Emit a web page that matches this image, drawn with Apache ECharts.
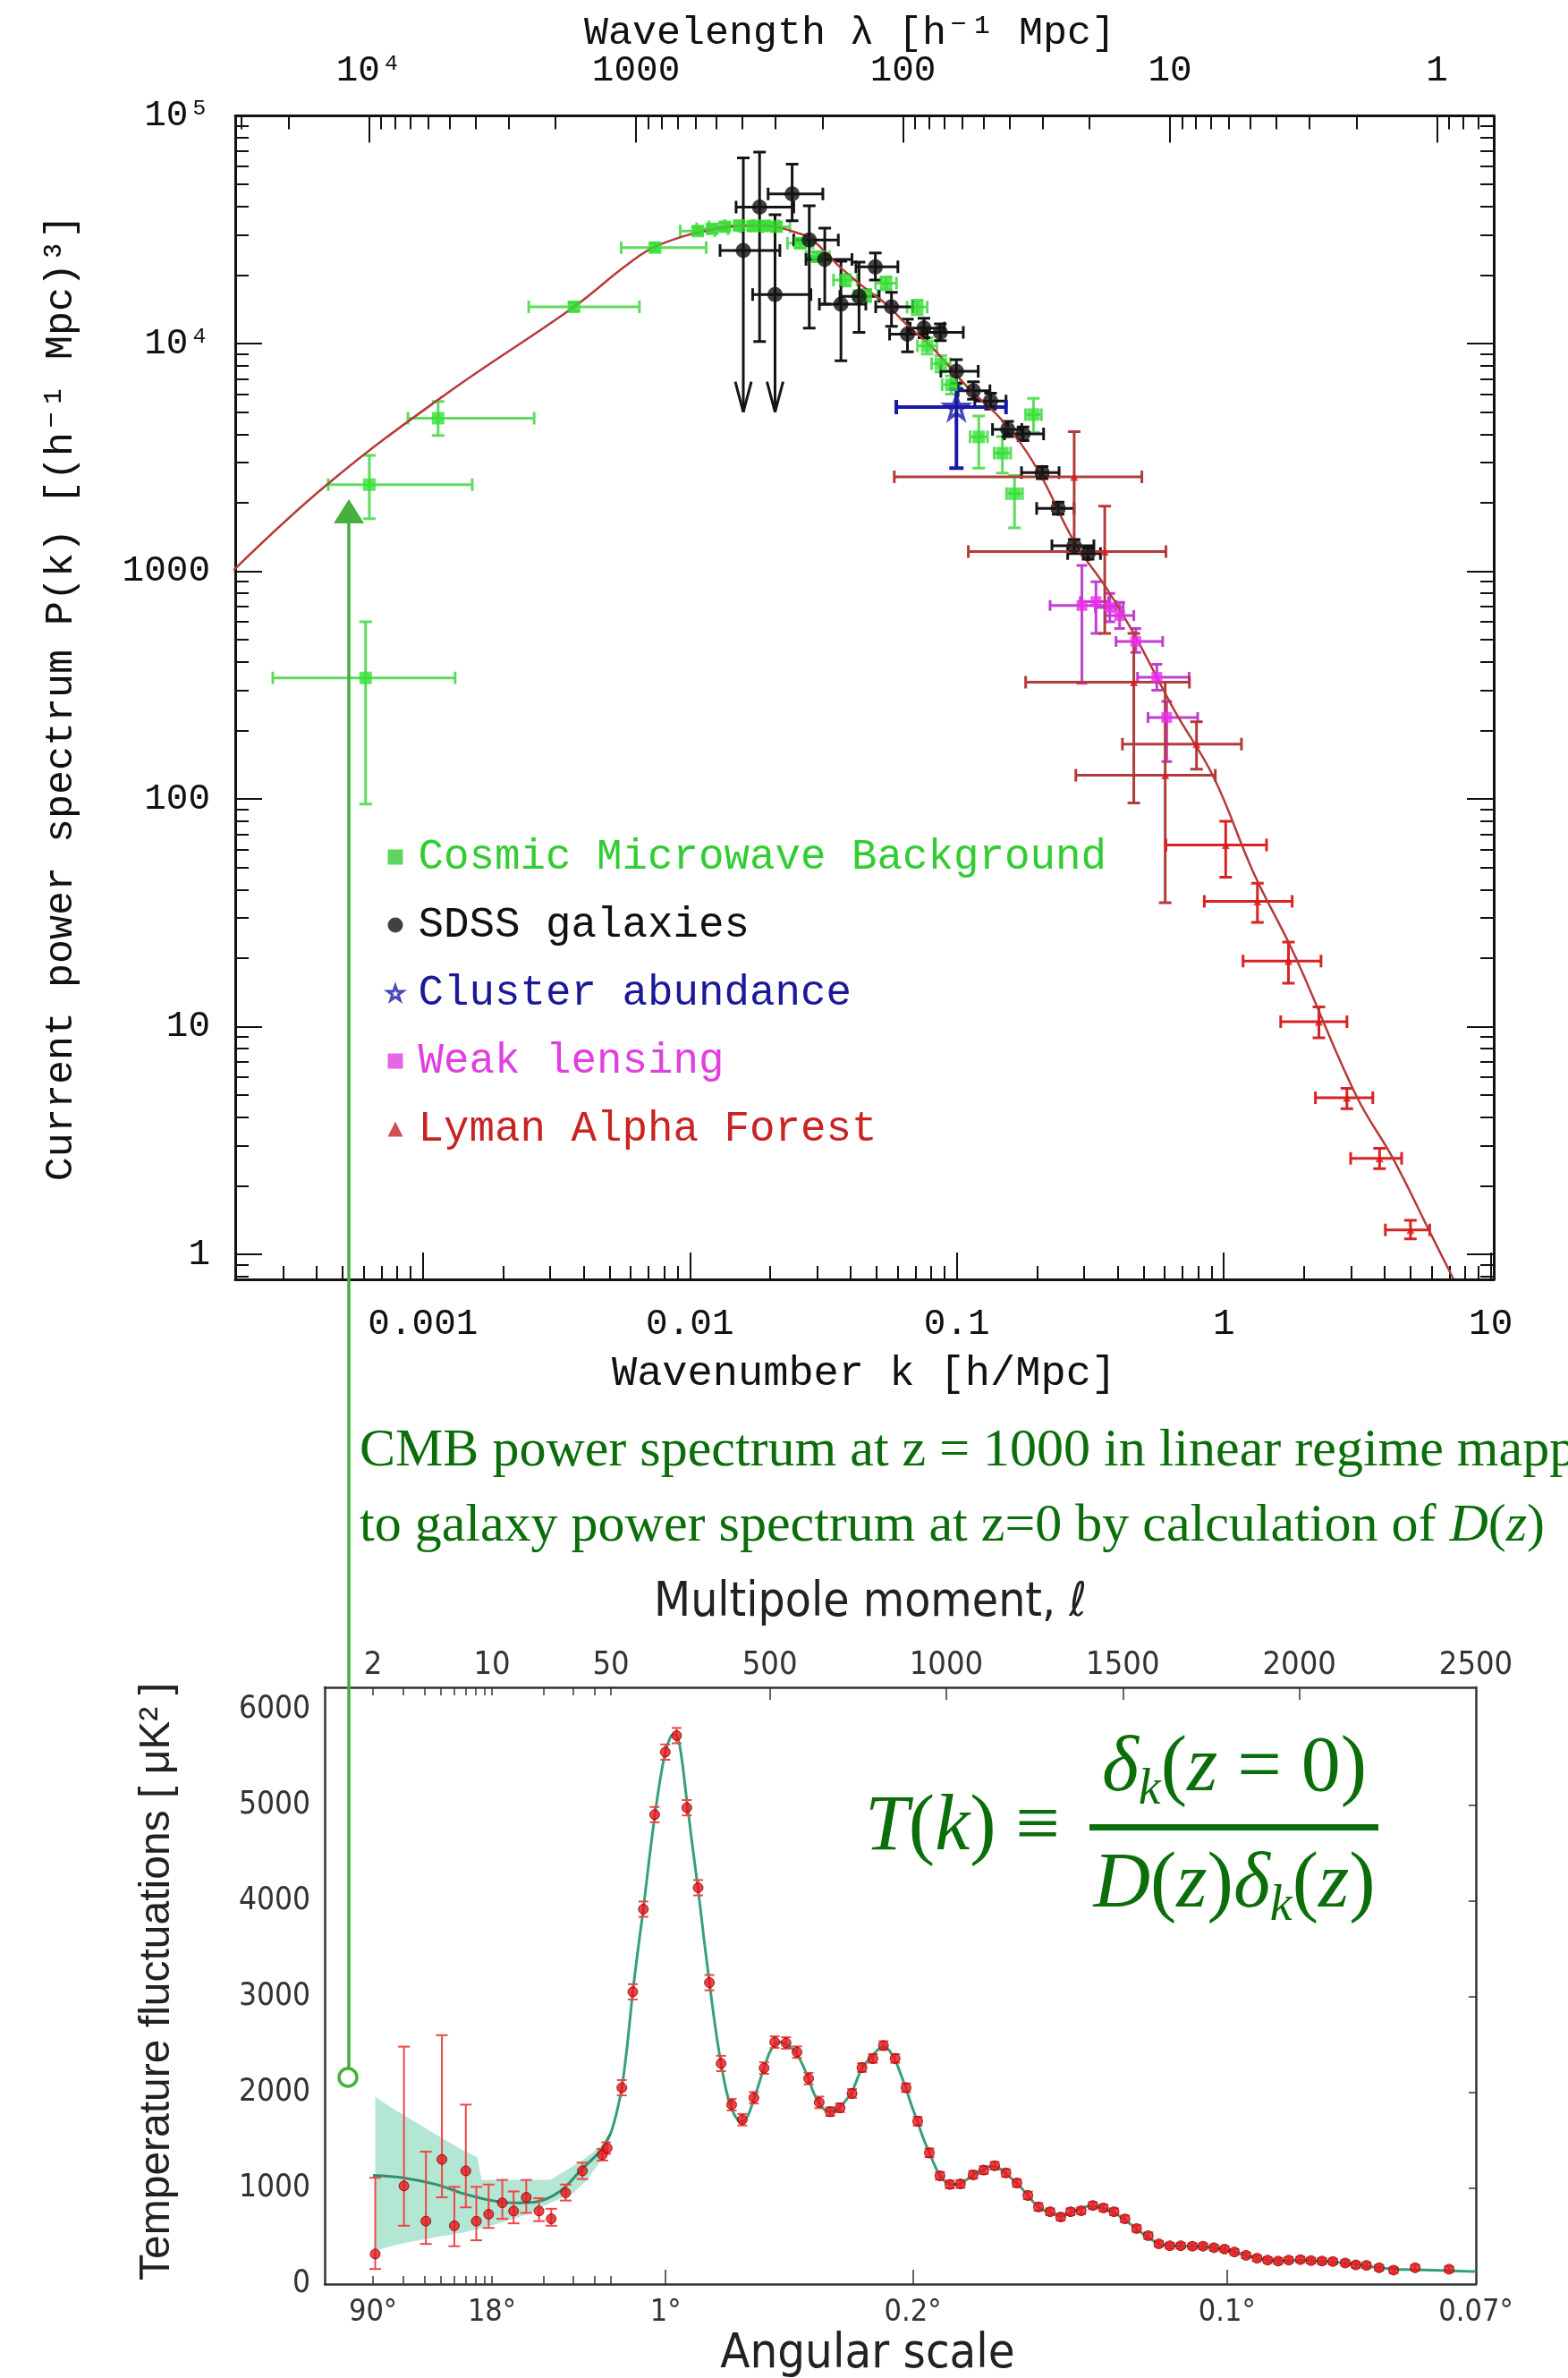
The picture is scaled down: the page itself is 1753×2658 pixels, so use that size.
<!DOCTYPE html>
<html>
<head>
<meta charset="utf-8">
<title>Matter power spectrum and CMB temperature spectrum</title>
<script src="https://cdn.jsdelivr.net/npm/echarts@6.0.0/dist/echarts.min.js"></script>
<style>
  html, body { margin: 0; padding: 0; background: #ffffff; }
  #chart { width: 1753px; height: 2658px; }
</style>
</head>
<body>
<div id="chart"></div>
<script>
// ---------------- Matter power spectrum P(k) at z = 0 ----------------
// Each point: [k, P, kLow, kHigh, PLow, PHigh, lowerLimitFlag]

// Linear-theory curve
const theoryK = [1.95e-4, 4.44e-4, 1.23e-3, 3.68e-3, 5.77e-3, 7.55e-3, 0.0126, 0.0178, 0.0211, 0.0251, 0.0284, 0.036, 0.0456, 0.0543, 0.0649, 0.0818, 0.110, 0.148, 0.199, 0.275, 0.362, 0.46, 0.65, 0.916, 1.294, 1.824, 3.133, 4.315, 5.957, 7.23];
const theoryP = [1009, 2438, 6040, 14490, 22030, 26920, 32000, 33000, 32500, 30700, 28900, 22000, 17400, 14900, 12100, 9460, 6410, 4590, 2840, 1349, 849, 533, 247, 124.5, 47.2, 21.1, 4.97, 2.62, 1.23, 0.783];

const cmbPoints = [
  [6.1e-4, 340, 2.74e-4, 1.32e-3, 95, 600],
  [6.3e-4, 2400, 4.42e-4, 1.53e-3, 1700, 3230],
  [1.14e-3, 4700, 8.79e-4, 2.61e-3, 3950, 5570],
  [3.68e-3, 14500, 2.49e-3, 6.47e-3, 13900, 15100],
  [7.4e-3, 26400, 5.53e-3, 1.15e-2, 25400, 27500],
  [0.0107, 31200, 0.0092, 0.0124, 30000, 32500],
  [0.0121, 31900, 0.0106, 0.0139, 30600, 33200],
  [0.0135, 32600, 0.0118, 0.0155, 31300, 33900],
  [0.0153, 33000, 0.0135, 0.0174, 31700, 34300],
  [0.0172, 32800, 0.0152, 0.0195, 31500, 34100],
  [0.0191, 32900, 0.0170, 0.0215, 31600, 34200],
  [0.0211, 32600, 0.0188, 0.0237, 31300, 33900],
  [0.0259, 27600, 0.0232, 0.0289, 26300, 28900],
  [0.0301, 24100, 0.0272, 0.0333, 22900, 25300],
  [0.0382, 19000, 0.0345, 0.0423, 17900, 20100],
  [0.0456, 16300, 0.0412, 0.0505, 15300, 17300],
  [0.0543, 18400, 0.0496, 0.0594, 17200, 19600],
  [0.0710, 14450, 0.0651, 0.0774, 13400, 15500],
  [0.0774, 9770, 0.0712, 0.0841, 9000, 10600],
  [0.0871, 8150, 0.0804, 0.0944, 7500, 8850],
  [0.0953, 6590, 0.0881, 0.1031, 6000, 7200],
  [0.1208, 3890, 0.1121, 0.1302, 2840, 4810],
  [0.148, 3300, 0.138, 0.159, 2700, 3900],
  [0.1644, 2190, 0.1535, 0.1761, 1550, 2630],
  [0.1936, 4875, 0.1808, 0.2073, 4070, 5750]
];

const sdssPoints = [
  [0.01585, 25600, 0.01297, 0.02173, 5000, 65300, 1],
  [0.01824, 39700, 0.01489, 0.02449, 10200, 69300, 0],
  [0.02084, 16400, 0.01718, 0.02838, 5000, 36800, 1],
  [0.02415, 45400, 0.01963, 0.03148, 34600, 61400, 0],
  [0.0280, 28500, 0.02449, 0.03597, 11700, 40300, 0],
  [0.0320, 23400, 0.02723, 0.04046, 14900, 32100, 0],
  [0.0368, 14900, 0.03055, 0.0456, 8400, 23000, 0],
  [0.0430, 16100, 0.03648, 0.05117, 11200, 22800, 0],
  [0.0495, 21700, 0.04188, 0.06012, 19000, 25000, 0],
  [0.0569, 14500, 0.04966, 0.06839, 11900, 16800, 0],
  [0.0653, 11000, 0.05598, 0.07745, 9200, 12800, 0],
  [0.0753, 11700, 0.06683, 0.08974, 10600, 12900, 0],
  [0.0867, 11200, 0.07413, 0.1057, 10300, 12200, 0],
  [0.0996, 7550, 0.0871, 0.1202, 6700, 8500, 0],
  [0.1153, 6210, 0.101, 0.133, 5700, 6800, 0],
  [0.1337, 5590, 0.1167, 0.1528, 5150, 6050, 0],
  [0.155, 4200, 0.136, 0.175, 3900, 4550, 0],
  [0.177, 4010, 0.1507, 0.2113, 3750, 4300, 0],
  [0.2086, 2710, 0.1746, 0.2415, 2550, 2880, 0],
  [0.2395, 1890, 0.199, 0.2748, 1780, 2010, 0],
  [0.275, 1295, 0.227, 0.326, 1220, 1380, 0],
  [0.310, 1195, 0.260, 0.345, 1130, 1265, 0]
];

const clusterPoints = [
  [0.0996, 5260, 0.0593, 0.1528, 2840, 6310]
];

const lensingPoints = [
  [0.294, 707, 0.2234, 0.3954, 322, 1060],
  [0.332, 736, 0.290, 0.370, 533, 900],
  [0.374, 693, 0.330, 0.420, 600, 800],
  [0.407, 639, 0.360, 0.460, 560, 730],
  [0.468, 492, 0.3945, 0.590, 440, 560],
  [0.561, 342, 0.475, 0.741, 300, 390],
  [0.611, 228, 0.520, 0.798, 146, 268]
];

// Lyman-alpha forest: broad-bin and fine-bin measurements
const lymanWide = [
  [0.275, 2600, 0.0583, 0.493, 1300, 4100],
  [0.358, 1220, 0.1104, 0.607, 533, 1930],
  [0.460, 326, 0.181, 0.743, 96, 533],
  [0.603, 127, 0.279, 0.929, 35, 326],
  [0.790, 174, 0.417, 1.164, 135, 218]
];
const lymanFine = [
  [1.016, 62.7, 0.607, 1.445, 45.3, 79.8],
  [1.336, 35.5, 0.845, 1.803, 28.7, 42.6],
  [1.746, 19.4, 1.18, 2.312, 15.5, 23.5],
  [2.27, 10.5, 1.633, 2.891, 8.93, 12.2],
  [2.89, 4.87, 2.203, 3.614, 4.36, 5.36],
  [3.83, 2.64, 2.985, 4.634, 2.38, 2.92],
  [5.00, 1.28, 4.027, 5.902, 1.17, 1.41]
];

// Axis ticks of the P(k) panel
const kTicks = [0.001, 0.01, 0.1, 1, 10];
const lambdaTicks = [10000, 1000, 100, 10, 1];
const pTicks = [1, 10, 100, 1000, 10000, 100000];

// ---------------- CMB temperature spectrum ----------------
const lowEll  = [2.06, 3.04, 4.09, 5.08, 6.01, 7.02, 8.09, 9.56, 11.5, 13.4, 15.9, 18.9, 22.3, 27.1, 34.0, 44.5, 47.5];
const lowD    = [314, 1024, 657, 1301, 609, 1182, 657, 729, 848, 762, 905, 762, 681, 953, 1182, 1350, 1420];
const lowDmin = [157, 609, 419, 905, 395, 801, 457, 586, 681, 634, 743, 657, 609, 872, 1096, 1290, 1360];
const lowDmax = [1110, 2479, 1382, 2598, 1015, 1873, 1015, 1039, 1087, 967, 1087, 896, 786, 1039, 1268, 1410, 1480];

const highEll = [81, 112, 142, 174, 204, 236, 265, 297, 329, 362, 392, 422, 455, 484, 514, 546, 577, 610, 640, 671, 699, 733, 761, 792, 822, 855, 886, 919, 952, 982, 1010, 1040, 1076, 1106, 1137, 1169, 1200, 1231, 1261, 1294, 1324, 1352, 1382, 1415, 1445, 1475, 1506, 1539, 1572, 1602, 1633, 1664, 1697, 1727, 1758, 1788, 1816, 1849, 1880, 1910, 1940, 1970, 2003, 2033, 2064, 2095, 2130, 2160, 2190, 2226, 2267, 2328, 2424];
const highD   = [2050, 3051, 3914, 4901, 5554, 5726, 4973, 4138, 3147, 2303, 1873, 1716, 1945, 2255, 2526, 2517, 2421, 2145, 1897, 1800, 1840, 1990, 2260, 2355, 2490, 2355, 2050, 1700, 1370, 1130, 1040, 1045, 1140, 1190, 1235, 1160, 1055, 925, 805, 755, 700, 755, 765, 820, 795, 755, 680, 580, 505, 420, 400, 400, 395, 395, 380, 365, 335, 300, 270, 250, 240, 250, 255, 245, 240, 235, 220, 200, 195, 170, 145, 170, 155];
const highErr = [80, 80, 80, 80, 80, 80, 80, 80, 80, 80, 60, 60, 60, 60, 60, 60, 60, 60, 60, 45, 45, 45, 45, 45, 45, 45, 45, 45, 45, 40, 40, 40, 40, 40, 40, 40, 40, 40, 40, 35, 35, 35, 35, 35, 35, 35, 35, 35, 35, 30, 30, 30, 30, 30, 30, 30, 30, 30, 30, 30, 30, 30, 30, 30, 30, 30, 30, 30, 30, 30, 30, 30, 30];

// Best-fit model spectrum
const modelEll = [2, 3, 4.7, 6.8, 10, 13.4, 18, 25, 34, 43.6, 50, 60, 70, 81, 95, 112, 127, 142, 158, 174, 190, 205, 220, 232, 245, 265, 280, 297, 313, 329, 345, 362, 378, 392, 408, 422, 438, 455, 470, 484, 500, 514, 530, 546, 561, 577, 593, 610, 625, 640, 655, 671, 685, 699, 716, 733, 761, 792, 822, 838, 855, 870, 886, 902, 919, 935, 952, 967, 982, 996, 1010, 1025, 1040, 1058, 1076, 1091, 1106, 1122, 1137, 1153, 1169, 1185, 1200, 1216, 1231, 1246, 1261, 1278, 1294, 1310, 1324, 1338, 1352, 1367, 1382, 1398, 1415, 1430, 1445, 1460, 1475, 1490, 1506, 1522, 1539, 1555, 1572, 1587, 1602, 1618, 1633, 1664, 1697, 1727, 1758, 1788, 1816, 1849, 1880, 1910, 1940, 1970, 2003, 2033, 2064, 2095, 2130, 2160, 2190, 2226, 2267, 2328, 2424, 2500];
const modelD = [1135, 1110, 1040, 945, 872, 848, 858, 967, 1206, 1396, 1580, 1700, 1850, 2050, 2450, 3050, 3500, 3920, 4420, 4880, 5280, 5560, 5720, 5740, 5620, 5050, 4600, 4120, 3620, 3150, 2700, 2300, 2000, 1830, 1720, 1690, 1760, 1930, 2100, 2260, 2420, 2500, 2530, 2500, 2470, 2400, 2290, 2140, 1990, 1890, 1820, 1800, 1810, 1850, 1920, 2010, 2250, 2390, 2480, 2440, 2340, 2200, 2040, 1860, 1690, 1520, 1370, 1240, 1130, 1070, 1045, 1040, 1050, 1090, 1140, 1170, 1195, 1225, 1230, 1200, 1150, 1100, 1050, 990, 920, 860, 805, 770, 750, 725, 710, 720, 745, 770, 790, 810, 815, 805, 790, 770, 745, 710, 670, 625, 575, 530, 490, 450, 420, 405, 400, 398, 393, 390, 378, 360, 335, 300, 272, 252, 242, 245, 250, 246, 238, 230, 218, 203, 190, 170, 155, 150, 140, 130];

// Cosmic-variance band at low multipoles
const bandHiEll = [2.06, 2.52, 3.43, 4.68, 6.4, 8.2, 8.7, 13.4, 22, 30, 36, 43.6, 50];
const bandHi    = [1954, 1850, 1706, 1563, 1420, 1325, 1087, 1087, 1087, 1230, 1325, 1444, 1600];
const bandLoEll = [2.06, 2.85, 4.68, 6.8, 9.9, 16.2, 22, 30, 36, 43.6, 50];
const bandLo    = [348, 419, 491, 538, 609, 729, 848, 950, 1080, 1290, 1540];

// Axis ticks of the CMB panel
const ellMinorLog = [2, 3, 4, 5, 6, 7, 8, 9, 10, 20, 30, 40, 50];
const ellLabelsLog = [2, 10, 50];
const ellLabelsLin = [500, 1000, 1500, 2000, 2500];
const ellTicksLin = [500, 1000, 1500, 2000];
const angleLabelsLog = ['90°', '18°'];
const angleEllLog = [2, 10];
const angleLabelsLin = ['1°', '0.2°', '0.1°', '0.07°'];
const angleEllLin = [205, 905, 1795, 2500];
const angleTicksLin = [205, 905, 1795];
const tempTicks = [0, 1000, 2000, 3000, 4000, 5000, 6000];
const tempRightTicks = [1000, 2000, 3000, 4000, 5000];

// ---------------- helpers ----------------
const lg = Math.log10;
const K_EXT = [-3.703, 1.011];       // log10 k shown
const P_EXT = [-0.11, 5];            // log10 P shown
const ELL_LOG_EXT = [0.017, Math.log10(50)];
const ELL_LIN_EXT = [50, 2500];
const D_EXT = [0, 6230];

const logBars = pts => pts.map(p => [lg(p[0]), lg(p[1]), lg(p[2]), lg(p[3]), lg(p[4]), lg(p[5]), p[6] || 0]);
const logXY = pts => pts.map(p => [lg(p[0]), lg(p[1])]);

function minorDecades(lo, hi, toAxis) {
  const out = [];
  for (let n = -5; n <= 5; n++) {
    for (let m = 2; m <= 9; m++) {
      const v = toAxis(m * Math.pow(10, n));
      if (v > lo && v < hi) out.push(v);
    }
  }
  return out;
}

function errorBars(color, width, cap) {
  return function (params, api) {
    const x = api.value(0), y = api.value(1);
    const c = api.coord([x, y]);
    const st = { stroke: color, lineWidth: width, fill: null };
    const kids = [];
    const seg = (x1, y1, x2, y2) => kids.push({ type: 'line', shape: { x1, y1, x2, y2 }, style: st });
    const h = cap / 2;
    const xl = api.value(2), xh = api.value(3);
    if (isFinite(xl) && isFinite(xh)) {
      const a = api.coord([xl, y])[0], b = api.coord([xh, y])[0];
      seg(a, c[1], b, c[1]);
      seg(a, c[1] - h, a, c[1] + h);
      seg(b, c[1] - h, b, c[1] + h);
    }
    const yl = api.value(4), yh = api.value(5);
    if (isFinite(yl) && isFinite(yh)) {
      const lo = api.coord([x, yl])[1], hi = api.coord([x, yh])[1];
      seg(c[0], lo, c[0], hi);
      seg(c[0] - h, hi, c[0] + h, hi);
      if (api.value(6) === 1) {
        seg(c[0] - 9, lo - 34, c[0], lo);
        seg(c[0] + 9, lo - 34, c[0], lo);
      } else {
        seg(c[0] - h, lo, c[0] + h, lo);
      }
    }
    return { type: 'group', children: kids };
  };
}

const MONO = "'Liberation Mono', 'DejaVu Sans Mono', monospace";
const NARROW = "'Liberation Sans Narrow', 'DejaVu Sans Condensed', 'Liberation Sans', sans-serif";
const SERIF = "'Liberation Serif', 'DejaVu Serif', serif";
const SUP = { 4: '⁴', 5: '⁵' };
const GREEN_TXT = '#0b6e0b';

function axis(o) {
  const base = {
    type: 'value', scale: false, splitLine: { show: false }, axisPointer: { show: false },
    axisLine: { show: o.line !== false, onZero: false, lineStyle: { color: o.lineColor || '#111', width: o.lineWidth || 3 } },
    axisTick: { show: !!o.ticks, inside: true, length: o.tickLen || 30, customValues: o.ticks,
      lineStyle: { color: o.lineColor || '#111', width: o.tickWidth || 2 } },
    axisLabel: o.labels ? Object.assign({ show: true, customValues: o.labels, formatter: o.fmt,
      fontFamily: MONO, fontSize: 41, color: '#111', margin: 30 }, o.labelStyle || {}) : { show: false }
  };
  return Object.assign(base, { gridIndex: o.grid, position: o.pos, min: o.ext[0], max: o.ext[1] });
}

const kMajor = kTicks.map(lg);
const kMinor = minorDecades(K_EXT[0], K_EXT[1], lg);
const lamToAxis = lam => lg(2 * Math.PI / lam);
const lamMajor = lambdaTicks.map(lamToAxis);
const lamMinor = minorDecades(K_EXT[0], K_EXT[1], lamToAxis);
const pMajor = pTicks.map(lg);
const pMinor = minorDecades(P_EXT[0], P_EXT[1], lg);

const fmtK = v => String(Number(Math.pow(10, v).toPrecision(1)));
const fmtLam = v => { const l = Math.round(2 * Math.PI / Math.pow(10, v)); return l >= 10000 ? '10' + SUP[Math.round(lg(l))] : String(l); };
const fmtP = v => { const p = Math.round(Math.pow(10, v)); return p >= 10000 ? '10' + SUP[Math.round(lg(p))] : String(p); };

const cmbLabelStyle = { fontFamily: NARROW, fontSize: 36, color: '#333', margin: 6 };
const bottomLabelStyle = { fontFamily: NARROW, fontSize: 34, color: '#333', margin: 15 };

const xAxes = [
  axis({ grid: 0, pos: 'bottom', ext: K_EXT, ticks: kMajor, labels: kMajor, fmt: fmtK }),
  axis({ grid: 0, pos: 'bottom', ext: K_EXT, ticks: kMinor, tickLen: 15, line: false }),
  axis({ grid: 0, pos: 'top', ext: K_EXT, ticks: lamMajor, labels: lamMajor, fmt: fmtLam }),
  axis({ grid: 0, pos: 'top', ext: K_EXT, ticks: lamMinor, tickLen: 15, line: false }),
  axis({ grid: 1, pos: 'top', ext: ELL_LOG_EXT, ticks: ellMinorLog.map(lg), tickLen: 9, lineColor: '#333', lineWidth: 2.5, tickWidth: 1.5,
    labels: ellLabelsLog.map(lg), fmt: v => String(Math.round(Math.pow(10, v))), labelStyle: cmbLabelStyle }),
  axis({ grid: 1, pos: 'bottom', ext: ELL_LOG_EXT, ticks: ellMinorLog.map(lg), tickLen: 9, lineColor: '#333', lineWidth: 2.5, tickWidth: 1.5,
    labels: angleEllLog.map(lg), fmt: (v) => angleLabelsLog[angleEllLog.findIndex(l => Math.abs(lg(l) - v) < 1e-6)], labelStyle: bottomLabelStyle }),
  axis({ grid: 2, pos: 'top', ext: ELL_LIN_EXT, ticks: ellTicksLin, tickLen: 14, lineColor: '#333', lineWidth: 2.5, tickWidth: 1.5,
    labels: ellLabelsLin, fmt: v => String(v), labelStyle: cmbLabelStyle }),
  axis({ grid: 2, pos: 'bottom', ext: ELL_LIN_EXT, ticks: angleTicksLin, tickLen: 16, lineColor: '#333', lineWidth: 2.5, tickWidth: 1.5,
    labels: angleEllLin, fmt: v => angleLabelsLin[angleEllLin.indexOf(v)], labelStyle: bottomLabelStyle })
];

const yAxes = [
  axis({ grid: 0, pos: 'left', ext: P_EXT, ticks: pMajor, labels: pMajor, fmt: fmtP, labelStyle: { margin: 28 } }),
  axis({ grid: 0, pos: 'left', ext: P_EXT, ticks: pMinor, tickLen: 15, line: false }),
  axis({ grid: 0, pos: 'right', ext: P_EXT, ticks: pMajor, line: true }),
  axis({ grid: 0, pos: 'right', ext: P_EXT, ticks: pMinor, tickLen: 15, line: false }),
  axis({ grid: 1, pos: 'left', ext: D_EXT, lineColor: '#333', lineWidth: 2.5,
    labels: tempTicks, fmt: v => String(v), labelStyle: { fontFamily: NARROW, fontSize: 35, color: '#333', margin: 16 } }),
  axis({ grid: 2, pos: 'right', ext: D_EXT, ticks: tempRightTicks, tickLen: 8, lineColor: '#333', lineWidth: 2.5, tickWidth: 1.5 })
];

// ---------------- series ----------------
const P0 = { xAxisIndex: 0, yAxisIndex: 0 };
const CMBLOG = { xAxisIndex: 4, yAxisIndex: 4 };
const CMBLIN = { xAxisIndex: 6, yAxisIndex: 5 };
const dims = ['x', 'y', 'xl', 'xh', 'yl', 'yh', 'flag'];

function barSeries(name, data, color, width, cap, axes, z) {
  return Object.assign({ type: 'custom', name, data, dimensions: dims, encode: { x: 0, y: 1 },
    renderItem: errorBars(color, width, cap), clip: true, z: z || 2, silent: true }, axes);
}
function markSeries(name, data, symbol, size, itemStyle, axes, z) {
  return Object.assign({ type: 'scatter', name, data, symbol, symbolSize: size, itemStyle, clip: true, z: z || 4, silent: true }, axes);
}

const STAR = 'path://M50,2 L61.5,36.5 L97.5,36.5 L68.5,58 L79.5,93 L50,71.5 L20.5,93 L31.5,58 L2.5,36.5 L38.5,36.5 Z';

const highPts = highEll.map((l, i) => [l, highD[i], NaN, NaN, highD[i] - highErr[i], highD[i] + highErr[i], 0]);
const lowPts = lowEll.map((l, i) => [lg(l), lowD[i], NaN, NaN, lowDmin[i], lowDmax[i], 0]);
const modelLog = modelEll.map((l, i) => [l, modelD[i]]).filter(p => p[0] <= 50).map(p => [lg(p[0]), p[1]]);
const modelLin = modelEll.map((l, i) => [l, modelD[i]]).filter(p => p[0] >= 50);

const series = [
  // P(k) panel
  barSeries('cmb-err', logBars(cmbPoints), '#5fdc5f', 3, 14, P0, 2),
  barSeries('sdss-err', logBars(sdssPoints), '#151515', 3, 14, P0, 2),
  barSeries('cluster-err', logBars(clusterPoints), '#1a1aa8', 4, 16, P0, 2),
  barSeries('lensing-err', logBars(lensingPoints), '#c040d0', 3, 12, P0, 2),
  barSeries('lya-wide-err', logBars(lymanWide), '#b23b3b', 3, 14, P0, 2),
  barSeries('lya-fine-err', logBars(lymanFine), '#d92323', 3, 14, P0, 2),
  Object.assign({ type: 'line', name: 'theory', data: theoryK.map((k, i) => [lg(k), lg(theoryP[i])]), smooth: 0.4,
    showSymbol: false, lineStyle: { color: '#b53a3a', width: 2.5 }, z: 3, silent: true, clip: true }, P0),
  markSeries('Cosmic Microwave Background', logXY(cmbPoints), 'rect', 14, { color: '#33e033' }, P0),
  markSeries('SDSS galaxies', logXY(sdssPoints), 'circle', 17, { color: '#111111' }, P0),
  markSeries('Cluster abundance', logXY(clusterPoints), STAR, 26, { color: 'rgba(0,0,0,0)', borderColor: '#1a1aa8', borderWidth: 3.5 }, P0, 5),
  markSeries('Weak lensing', logXY(lensingPoints), 'rect', 12, { color: '#ee2cee' }, P0),
  markSeries('Lyman Alpha Forest', logXY(lymanWide), 'triangle', 9, { color: '#e01818' }, P0),
  markSeries('Lyman Alpha Forest', logXY(lymanFine), 'triangle', 9, { color: '#e01818' }, P0),

  // CMB panel: cosmic-variance band
  Object.assign({ type: 'custom', name: 'band', data: [[lg(bandHiEll[0]), bandHi[0]]], clip: true, z: 1, silent: true,
    renderItem: (params, api) => {
      const up = bandHiEll.map((l, i) => api.coord([lg(l), bandHi[i]]));
      const dn = bandLoEll.map((l, i) => api.coord([lg(l), bandLo[i]])).reverse();
      return { type: 'polygon', shape: { points: up.concat(dn) }, style: { fill: '#b3e6d3', stroke: null } };
    } }, CMBLOG),
  Object.assign({ type: 'line', name: 'model-low', data: modelLog, smooth: 0.35, showSymbol: false,
    lineStyle: { color: '#2f8f6f', width: 3 }, z: 3, silent: true }, CMBLOG),
  Object.assign({ type: 'line', name: 'model-high', data: modelLin, smooth: 0.35, showSymbol: false,
    lineStyle: { color: '#35a07c', width: 3 }, z: 3, silent: true }, CMBLIN),
  barSeries('planck-low-err', lowPts, '#f04646', 2, 13, CMBLOG, 4),
  barSeries('planck-high-err', highPts, '#f04646', 2, 11, CMBLIN, 4),
  markSeries('planck-low', lowPts.map(p => [p[0], p[1]]), 'circle', 11, { color: '#e8161c', borderColor: '#7a0000', borderWidth: 1 }, CMBLOG, 5),
  markSeries('planck-high', highPts.map(p => [p[0], p[1]]), 'circle', 11, { color: '#e8161c', borderColor: '#7a0000', borderWidth: 1 }, CMBLIN, 5)
];

// ---------------- texts and the linking arrow ----------------
const LINK = '#46b03a';
const graphic = [
  { type: 'text', x: 950, y: 37, style: { text: 'Wavelength λ [h⁻¹ Mpc]', font: "45px " + MONO, fill: '#111', align: 'center', verticalAlign: 'middle' } },
  { type: 'text', x: 966, y: 1536, style: { text: 'Wavenumber k [h/Mpc]', font: "47px " + MONO, fill: '#111', align: 'center', verticalAlign: 'middle' } },
  { type: 'text', x: 68, y: 780, rotation: Math.PI / 2, style: { text: 'Current power spectrum P(k) [(h⁻¹ Mpc)³]', font: "45px " + MONO, fill: '#111', align: 'center', verticalAlign: 'middle' } },

  { type: 'text', x: 402, y: 1622, style: { text: 'CMB power spectrum at z = 1000 in linear regime mapped', font: "60px " + SERIF, fill: GREEN_TXT, align: 'left', verticalAlign: 'middle' } },
  { type: 'text', x: 402, y: 1706, style: { text: 'to galaxy power spectrum at z=0 by calculation of {i|D}({i|z})', font: "60px " + SERIF, fill: GREEN_TXT, align: 'left', verticalAlign: 'middle',
    rich: { i: { fontFamily: SERIF, fontStyle: 'italic', fontSize: 60, fill: GREEN_TXT } } } },

  { type: 'text', x: 973, y: 1792, style: { text: 'Multipole moment, ℓ', font: "53px " + NARROW, fill: '#222', align: 'center', verticalAlign: 'middle' } },
  { type: 'text', x: 970, y: 2632, style: { text: 'Angular scale', font: "54px " + NARROW, fill: '#222', align: 'center', verticalAlign: 'middle' } },
  { type: 'text', x: 176, y: 2215, rotation: Math.PI / 2, style: { text: 'Temperature fluctuations [ μK² ]', font: "48px 'Liberation Sans', sans-serif", fill: '#222', align: 'center', verticalAlign: 'middle' } },

  // transfer-function definition
  { type: 'text', x: 1076, y: 2044, z: 10, style: { text: '{i|T}{n|(}{i|k}{n|) ≡}', align: 'center', verticalAlign: 'middle',
    rich: { i: { fontFamily: SERIF, fontStyle: 'italic', fontSize: 88, fill: GREEN_TXT }, n: { fontFamily: SERIF, fontSize: 88, fill: GREEN_TXT } } } },
  { type: 'text', x: 1380, y: 1978, z: 10, style: { text: '{i|δ}{s|k}{n|(}{i|z}{n| = 0)}', align: 'center', verticalAlign: 'middle',
    rich: { i: { fontFamily: SERIF, fontStyle: 'italic', fontSize: 88, fill: GREEN_TXT }, n: { fontFamily: SERIF, fontSize: 88, fill: GREEN_TXT },
      s: { fontFamily: SERIF, fontStyle: 'italic', fontSize: 56, fill: GREEN_TXT, padding: [46, 0, 0, 0] } } } },
  { type: 'rect', z: 10, shape: { x: 1218, y: 2039, width: 323, height: 7 }, style: { fill: GREEN_TXT } },
  { type: 'text', x: 1380, y: 2108, z: 10, style: { text: '{i|D}{n|(}{i|z}{n|)}{i|δ}{s|k}{n|(}{i|z}{n|)}', align: 'center', verticalAlign: 'middle',
    rich: { i: { fontFamily: SERIF, fontStyle: 'italic', fontSize: 88, fill: GREEN_TXT }, n: { fontFamily: SERIF, fontSize: 88, fill: GREEN_TXT },
      s: { fontFamily: SERIF, fontStyle: 'italic', fontSize: 56, fill: GREEN_TXT, padding: [46, 0, 0, 0] } } } },

  // link from the CMB low-multipole end to the large-scale end of P(k)
  { type: 'line', z: 20, shape: { x1: 390, y1: 2312, x2: 390, y2: 578 }, style: { stroke: LINK, lineWidth: 3.5 } },
  { type: 'polygon', z: 20, shape: { points: [[390, 558], [373, 585], [407, 585]] }, style: { fill: LINK } },
  { type: 'circle', z: 21, shape: { cx: 389, cy: 2322, r: 10 }, style: { fill: '#fff', stroke: LINK, lineWidth: 3.5 } }
];

const legendNames = ['Cosmic Microwave Background', 'SDSS galaxies', 'Cluster abundance', 'Weak lensing', 'Lyman Alpha Forest'];
const legendColors = ['#33cc33', '#111111', '#1a1a99', '#e040e0', '#c82424'];
const legendIcons = ['rect', 'circle', STAR, 'rect', 'triangle'];

const option = {
  animation: false,
  backgroundColor: '#ffffff',
  grid: [
    { left: 263, top: 129.5, width: 1407, height: 1300.5 },
    { left: 363, top: 1886, width: 320, height: 667 },
    { left: 683, top: 1886, width: 967, height: 667 }
  ],
  xAxis: xAxes,
  yAxis: yAxes,
  legend: {
    show: true, orient: 'vertical', left: 432, top: 933, itemWidth: 17, itemHeight: 17, itemGap: 26,
    selectedMode: false, padding: 0,
    textStyle: { fontFamily: MONO, fontSize: 47.5, lineHeight: 50, padding: [0, 0, 0, 12] },
    data: legendNames.map((n, i) => ({
      name: n, icon: legendIcons[i],
      textStyle: { color: legendColors[i] },
      itemStyle: i === 2 ? { color: 'rgba(0,0,0,0)', borderColor: '#1a1aa8', borderWidth: 3 } : { color: legendColors[i], borderWidth: 0 }
    }))
  },
  graphic: graphic,
  series: series
};

const chart = echarts.init(document.getElementById('chart'), null, { renderer: 'canvas' });
chart.setOption(option);
</script>
</body>
</html>
